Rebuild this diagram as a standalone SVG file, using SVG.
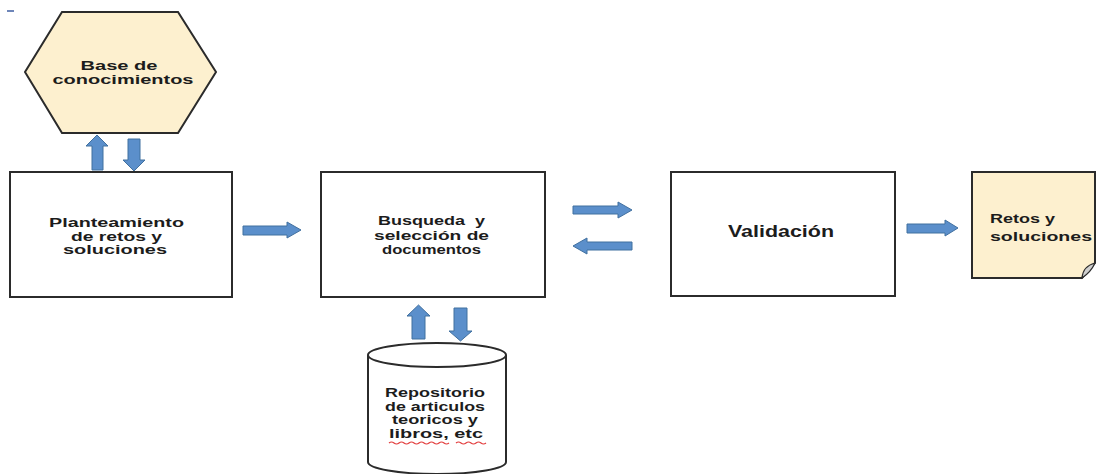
<svg xmlns="http://www.w3.org/2000/svg" width="1097" height="474" viewBox="0 0 1097 474">
  <style>
    .box { fill: #ffffff; stroke: #2b2b2b; stroke-width: 2; }
    .pale { fill: #fdf0cf; stroke: #2b2b2b; stroke-width: 2; }
    .lbl { font-family: "Liberation Sans", Arial, sans-serif; font-weight: bold; font-size: 12.5px; fill: #1c1c1c; }
    .big { font-size: 16px; }
    .arrow { fill: #5b8fcb; stroke: #41709f; stroke-width: 1; }
    .squiggle { fill: none; stroke: #e23a3a; stroke-width: 1.2; }
  </style>

  <!-- stray mark in the corner -->
  <rect x="7" y="10" width="7" height="2" fill="#4a68a8" opacity="0.8"/>

  <!-- knowledge base (hexagon) -->
  <g id="base-conocimientos">
    <polygon class="pale" points="62,12 178,12 216,72 178,133 62,133 25,72"/>
    <text class="lbl" x="119" y="70" text-anchor="middle" textLength="77" lengthAdjust="spacingAndGlyphs">Base de</text>
    <text class="lbl" x="123" y="84" text-anchor="middle" textLength="141" lengthAdjust="spacingAndGlyphs">conocimientos</text>
  </g>

  <!-- problem statement -->
  <g id="planteamiento">
    <rect class="box" x="10" y="172" width="222" height="125"/>
    <text class="lbl" x="116.5" y="227" text-anchor="middle" textLength="135" lengthAdjust="spacingAndGlyphs">Planteamiento</text>
    <text class="lbl" x="116.5" y="240.5" text-anchor="middle" textLength="91" lengthAdjust="spacingAndGlyphs">de retos y</text>
    <text class="lbl" x="115" y="254" text-anchor="middle" textLength="104" lengthAdjust="spacingAndGlyphs">soluciones</text>
  </g>

  <!-- search and selection -->
  <g id="busqueda">
    <rect class="box" x="321" y="172" width="224" height="125"/>
    <text class="lbl" x="431.5" y="225" text-anchor="middle" textLength="107" lengthAdjust="spacingAndGlyphs" xml:space="preserve">Busqueda  y</text>
    <text class="lbl" x="431.5" y="240" text-anchor="middle" textLength="115" lengthAdjust="spacingAndGlyphs">selección de</text>
    <text class="lbl" x="431.5" y="254" text-anchor="middle" textLength="99" lengthAdjust="spacingAndGlyphs">documentos</text>
  </g>

  <!-- validation -->
  <g id="validacion">
    <rect class="box" x="671" y="172" width="224" height="124"/>
    <text class="lbl big" x="781" y="237" text-anchor="middle" textLength="106" lengthAdjust="spacingAndGlyphs">Validación</text>
  </g>

  <!-- resulting challenges and solutions (note with curled corner) -->
  <g id="retos-soluciones">
    <path class="pale" d="M972,172 H1095 V263 L1082,278 H972 Z"/>
    <path d="M1082,278 Q1083,266 1095,263 Q1091,272 1082,278 Z" fill="#cfcfcf" stroke="#2b2b2b" stroke-width="1.2"/>
    <text class="lbl" x="990" y="223" textLength="65" lengthAdjust="spacingAndGlyphs">Retos y</text>
    <text class="lbl" x="990" y="241" textLength="102" lengthAdjust="spacingAndGlyphs">soluciones</text>
  </g>

  <!-- repository (cylinder) -->
  <g id="repositorio">
    <path class="box" d="M368,355 V462 A69,12 0 0 0 506,462 V355"/>
    <ellipse class="box" cx="437" cy="355" rx="69" ry="12"/>
    <text class="lbl" x="435" y="397" text-anchor="middle" textLength="100" lengthAdjust="spacingAndGlyphs">Repositorio</text>
    <text class="lbl" x="435" y="410.5" text-anchor="middle" textLength="100" lengthAdjust="spacingAndGlyphs">de articulos</text>
    <text class="lbl" x="435" y="424" text-anchor="middle" textLength="86" lengthAdjust="spacingAndGlyphs">teoricos y</text>
    <text class="lbl" x="436" y="437.5" text-anchor="middle" textLength="94" lengthAdjust="spacingAndGlyphs">libros, etc</text>
    <path class="squiggle" d="M389,443 q2.5,-2 5,0 t5,0 t5,0 t5,0 t5,0 t5,0 t5,0 t5,0 t5,0 t5,0 t5,0 t5,0"/>
    <path class="squiggle" d="M456,443 q2.5,-2 5,0 t5,0 t5,0 t5,0 t5,0 t5,0"/>
  </g>

  <!-- block arrows between steps -->
  <g id="connectors">
    <!-- knowledge base exchange -->
    <path class="arrow" d="M97,135 L108,146 H103 V170 H92 V146 H86 Z"/>
    <path class="arrow" d="M134,171 L145,160 H140 V139 H128 V160 H123 Z"/>
    <!-- planteamiento to busqueda -->
    <path class="arrow" d="M301,230 L287,222 V226 H243 V235 H287 V238 Z"/>
    <!-- busqueda to validacion and back -->
    <path class="arrow" d="M632,210 L618,202 V206 H573 V214 H618 V218 Z"/>
    <path class="arrow" d="M573,246 L587,238 V242 H632 V250 H587 V254 Z"/>
    <!-- validacion to result -->
    <path class="arrow" d="M958,228 L945,220 V224 H907 V233 H945 V236 Z"/>
    <!-- repository exchange -->
    <path class="arrow" d="M418.5,305 L430,316 H425 V339 H412 V316 H407 Z"/>
    <path class="arrow" d="M460.5,341 L472,331 H467 V308 H454 V331 H449 Z"/>
  </g>
</svg>
